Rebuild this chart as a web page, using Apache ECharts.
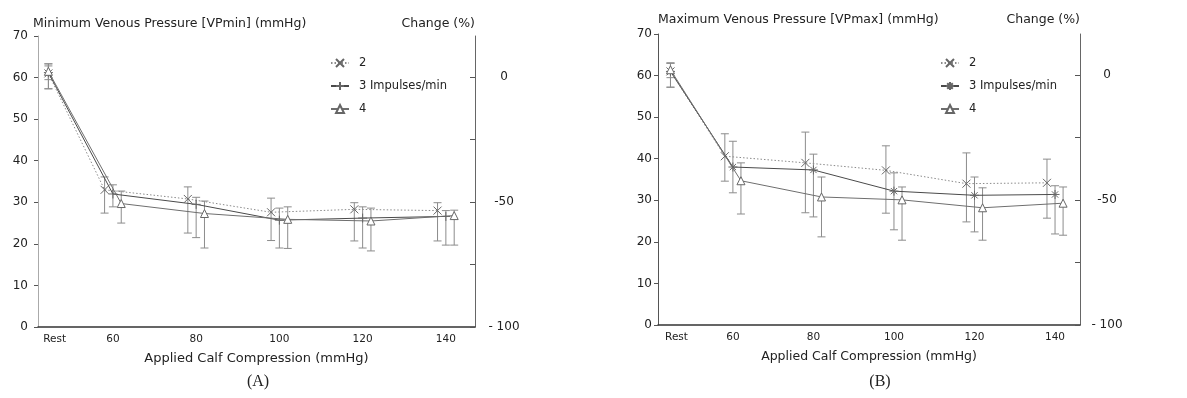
<!DOCTYPE html>
<html><head><meta charset="utf-8">
<script src="https://cdn.jsdelivr.net/npm/echarts@6/dist/echarts.min.js"></script>
<style>html,body{margin:0;padding:0;background:#fff}#c{width:1187px;height:398px}</style>
</head><body><div id="c"></div>
<script>
// ---------- data ----------
const categories = ['Rest', '60', '80', '100', '120', '140'];
const categoryX = [44.5, 60, 80, 100, 120, 140];
const tickLabelX = [46, 60, 80, 100, 120, 140];
const seriesNames = ['2', '3 Impulses/min', '4'];
const leftTicks = [0, 10, 20, 30, 40, 50, 60, 70];
const changeTicks = [-100, -75, -50, -25, 0];
const changeLabels = [-100, -50, 0];

// (A) Minimum venous pressure
const vpmin2 = [61.0, 33.0, 30.8, 27.6, 28.3, 28.0];
const vpmin2Low = [57.3, 27.4, 22.6, 20.8, 20.7, 20.7];
const vpmin2High = [63.3, 36.1, 33.7, 31.0, 29.9, 29.9];
const vpmin3 = [61.2, 32.0, 29.5, 25.7, 26.2, 26.6];
const vpmin3Low = [57.3, 28.9, 21.5, 19.0, 19.0, 19.7];
const vpmin3High = [63.3, 34.2, 31.2, 28.6, 28.9, 28.0];
const vpmin4 = [61.5, 29.7, 27.3, 25.9, 25.5, 26.8];
const vpmin4Low = [59.5, 25.0, 19.0, 18.9, 18.3, 19.7];
const vpmin4High = [62.8, 32.7, 30.3, 28.9, 28.6, 28.1];

// (B) Maximum venous pressure
const vpmax2 = [61.0, 40.6, 39.0, 37.2, 34.0, 34.2];
const vpmax2Low = [57.2, 34.6, 27.0, 26.9, 24.8, 25.7];
const vpmax2High = [63.0, 46.0, 46.4, 43.1, 41.4, 39.9];
const vpmax3 = [61.0, 38.0, 37.3, 32.2, 31.2, 31.4];
const vpmax3Low = [57.2, 31.8, 26.0, 22.9, 22.4, 21.9];
const vpmax3High = [63.0, 44.2, 41.1, 36.6, 35.6, 33.5];
const vpmax4 = [61.4, 34.7, 30.8, 30.1, 28.2, 29.3];
const vpmax4Low = [59.5, 26.7, 21.2, 20.4, 20.4, 21.6];
const vpmax4High = [63.0, 39.0, 35.6, 33.2, 33.0, 33.2];

// ---------- layout / style ----------
const OFFSETS = [-2, 0, 2];
const FONT = 'DejaVu Sans';
const TXT = '#222';
const SYM_X = 'path://M0,0L10,10M10,0L0,10';
const SYM_PLUS = 'path://M5,0L5,10M0,5L10,5';
const SYM_STAR = 'path://M5,0L5,10M0,5L10,5M1.5,1.5L8.5,8.5M8.5,1.5L1.5,8.5';

function xs(i, k) { return i === 0 ? categoryX[0] : categoryX[i] + OFFSETS[k]; }
function pts(vals, k) { return vals.map((v, i) => [xs(i, k), v]); }
function errs(lo, hi, k) { return lo.map((l, i) => [xs(i, k), l, hi[i]]); }

function errRender(params, api) {
  const x = api.value(0), lo = api.value(1), hi = api.value(2);
  const p1 = api.coord([x, lo]), p2 = api.coord([x, hi]);
  const w = 4;
  const style = { stroke: '#8c8c8c', lineWidth: 1 };
  return { type: 'group', children: [
    { type: 'line', shape: { x1: p1[0], y1: p1[1], x2: p2[0], y2: p2[1] }, style },
    { type: 'line', shape: { x1: p1[0] - w, y1: p1[1], x2: p1[0] + w, y2: p1[1] }, style },
    { type: 'line', shape: { x1: p2[0] - w, y1: p2[1], x2: p2[0] + w, y2: p2[1] }, style }
  ]};
}

const lineStyles = [
  { color: '#8a8a8a', width: 1, type: [1.5, 2] },
  { color: '#4a4a4a', width: 1 },
  { color: '#6e6e6e', width: 1 }
];

function mkLine(name, vals, k, g, symbol, size) {
  const tri = symbol === 'triangle';
  return {
    name, type: 'line', xAxisIndex: g, yAxisIndex: g * 2,
    data: pts(vals, k), symbol, symbolSize: size, showSymbol: true,
    lineStyle: lineStyles[k],
    itemStyle: { color: tri ? '#fff' : '#666', borderColor: '#666', borderWidth: 1 },
    emphasis: { disabled: true }, z: 3
  };
}
function mkErr(lo, hi, k, g) {
  return {
    type: 'custom', xAxisIndex: g, yAxisIndex: g * 2, renderItem: errRender,
    data: errs(lo, hi, k), encode: { x: 0, y: [1, 2] }, silent: true, z: 2
  };
}

function xAxis(g, min, max) {
  return {
    gridIndex: g, type: 'value', min, max,
    axisLine: { show: true, onZero: false, lineStyle: { color: '#333', width: 1.5 } },
    axisTick: { show: false }, splitLine: { show: false },
    axisLabel: {
      customValues: tickLabelX, margin: 7, fontSize: 10.5, color: TXT, fontFamily: FONT,
      formatter: v => { const i = tickLabelX.indexOf(v); return i >= 0 ? categories[i] : ''; }
    },
    name: 'Applied Calf Compression (mmHg)', nameLocation: 'middle', nameGap: 25,
    nameTextStyle: { fontSize: g === 0 ? 13 : 12.5, color: TXT, fontFamily: FONT }
  };
}
function yLeft(g, axisColor, margin) {
  return {
    gridIndex: g, type: 'value', min: 0, max: 70, interval: 10, position: 'left',
    axisLine: { show: true, lineStyle: { color: axisColor, width: 1 } },
    axisTick: { show: true, length: 4, lineStyle: { color: '#555' } },
    axisLabel: { fontSize: 12, color: TXT, margin, fontFamily: FONT },
    splitLine: { show: false }
  };
}
function yRight(g) {
  return {
    gridIndex: g, type: 'value', min: -100, max: 16.5, position: 'right',
    axisLine: { show: true, lineStyle: { color: '#666', width: 1 } },
    axisTick: { show: true, inside: true, length: 5, customValues: changeTicks, lineStyle: { color: '#555' } },
    axisLabel: {
      customValues: changeLabels, align: 'center', margin: g === 0 ? 29 : 27,
      fontSize: 12, color: TXT, fontFamily: FONT,
      formatter: v => v === -100 ? '- 100' : String(v)
    },
    splitLine: { show: false }
  };
}
function legend(left, names) {
  return {
    orient: 'vertical', left, top: 57, padding: 0, itemWidth: 18, itemHeight: 10, itemGap: 11,
    data: names, selectedMode: false, formatter: n => n.trim(),
    textStyle: { fontSize: 11.5, color: TXT, fontFamily: FONT, padding: [0, 0, 0, 5] }
  };
}

const rightNames = seriesNames.map(n => n + ' ');

const option = {
  animation: false,
  textStyle: { fontFamily: FONT },
  title: [
    { text: 'Minimum Venous Pressure [VPmin] (mmHg)', left: 33, top: 17, padding: 0,
      textStyle: { fontSize: 12.5, fontWeight: 'normal', color: TXT, fontFamily: FONT } },
    { text: 'Change (%)', right: 712, top: 17, padding: 0,
      textStyle: { fontSize: 12.5, fontWeight: 'normal', color: TXT, fontFamily: FONT } },
    { text: 'Maximum Venous Pressure [VPmax] (mmHg)', left: 658, top: 13, padding: 0,
      textStyle: { fontSize: 12.5, fontWeight: 'normal', color: TXT, fontFamily: FONT } },
    { text: 'Change (%)', right: 107, top: 13, padding: 0,
      textStyle: { fontSize: 12.5, fontWeight: 'normal', color: TXT, fontFamily: FONT } }
  ],
  graphic: [
    { type: 'text', x: 258, y: 382, style: { text: '(A)', font: '16px "Liberation Serif"', fill: TXT, align: 'center', verticalAlign: 'middle' } },
    { type: 'text', x: 880, y: 382, style: { text: '(B)', font: '16px "Liberation Serif"', fill: TXT, align: 'center', verticalAlign: 'middle' } }
  ],
  legend: [legend(330, seriesNames), legend(940, rightNames)],
  grid: [
    { left: 38, top: 36, width: 437, height: 291, containLabel: false },
    { left: 658, top: 34, width: 422, height: 291, containLabel: false }
  ],
  xAxis: [xAxis(0, 42, 147), xAxis(1, 41.4, 146.2)],
  yAxis: [yLeft(0, '#aaa', 10), yRight(0), yLeft(1, '#555', 6), yRight(1)],
  series: [
    mkErr(vpmin2Low, vpmin2High, 0, 0),
    mkErr(vpmin3Low, vpmin3High, 1, 0),
    mkErr(vpmin4Low, vpmin4High, 2, 0),
    mkLine(seriesNames[0], vpmin2, 0, 0, SYM_X, 8),
    mkLine(seriesNames[1], vpmin3, 1, 0, SYM_PLUS, 9),
    mkLine(seriesNames[2], vpmin4, 2, 0, 'triangle', 8),
    mkErr(vpmax2Low, vpmax2High, 0, 1),
    mkErr(vpmax3Low, vpmax3High, 1, 1),
    mkErr(vpmax4Low, vpmax4High, 2, 1),
    mkLine(rightNames[0], vpmax2, 0, 1, SYM_X, 8),
    mkLine(rightNames[1], vpmax3, 1, 1, SYM_STAR, 9),
    mkLine(rightNames[2], vpmax4, 2, 1, 'triangle', 8)
  ]
};
const chart = echarts.init(document.getElementById('c'), null, { renderer: 'canvas' });
chart.setOption(option);
</script></body></html>
